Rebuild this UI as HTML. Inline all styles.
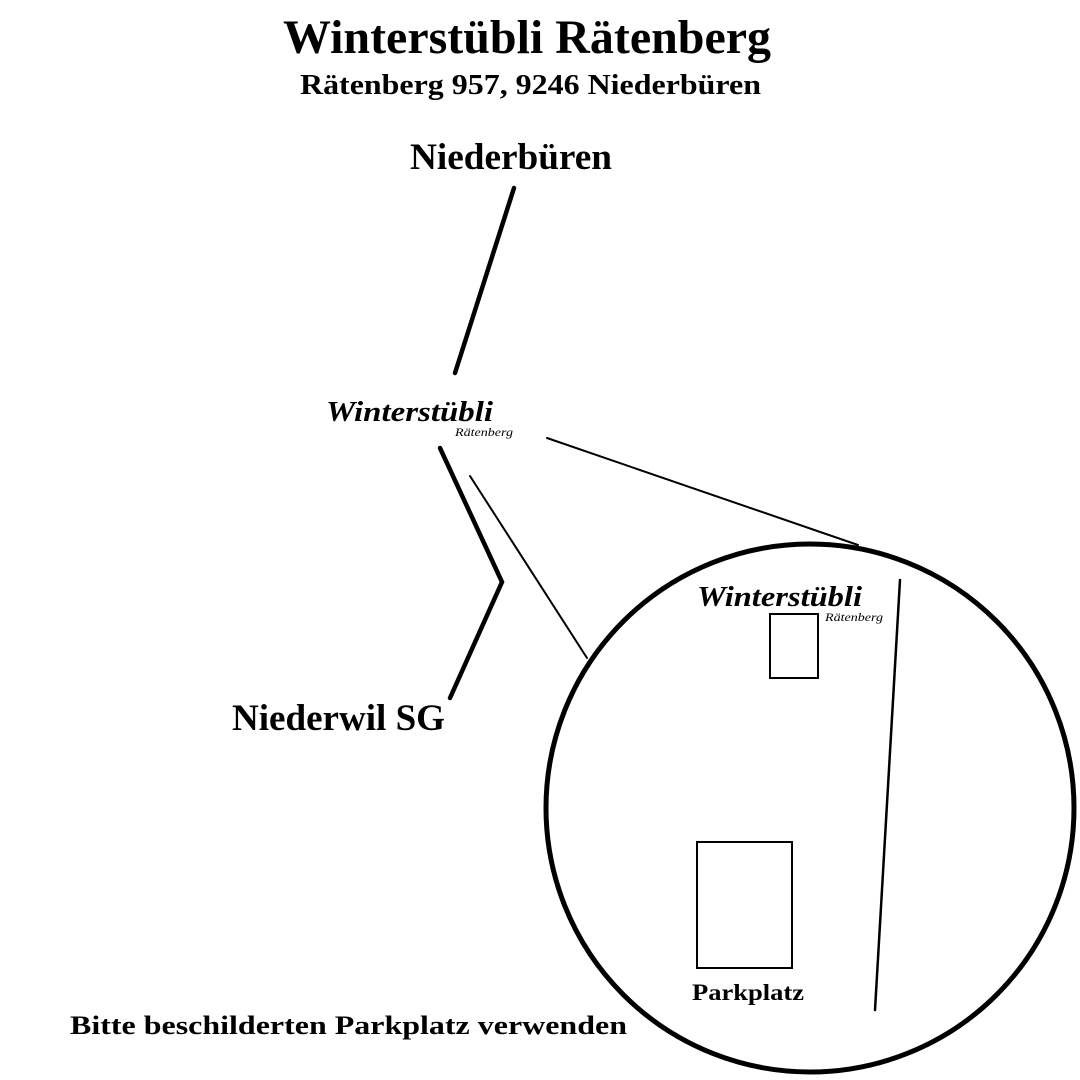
<!DOCTYPE html>
<html><head><meta charset="utf-8"><style>
html,body{margin:0;padding:0;background:#fff;}
svg{display:block}
</style></head><body>
<svg width="1080" height="1080" viewBox="0 0 1080 1080" xmlns="http://www.w3.org/2000/svg">
<rect width="1080" height="1080" fill="#fff"/>
<g font-family="Liberation Serif, serif" font-weight="bold" fill="#000">
<text x="283" y="53" font-size="48" textLength="488" lengthAdjust="spacingAndGlyphs">Winterstübli Rätenberg</text>
<text x="300" y="94" font-size="29" textLength="461" lengthAdjust="spacingAndGlyphs">Rätenberg 957, 9246 Niederbüren</text>
<text x="410" y="169" font-size="37" textLength="202" lengthAdjust="spacingAndGlyphs">Niederbüren</text>
<text x="232" y="730" font-size="37" textLength="213" lengthAdjust="spacingAndGlyphs">Niederwil SG</text>
<text x="70" y="1034" font-size="26" textLength="557" lengthAdjust="spacingAndGlyphs">Bitte beschilderten Parkplatz verwenden</text>
<text x="692" y="1000" font-size="23" textLength="112" lengthAdjust="spacingAndGlyphs">Parkplatz</text>
</g>
<g font-family="Liberation Serif, serif" font-style="italic" fill="#000">
<text x="326" y="421" font-size="28" font-weight="bold" textLength="167" lengthAdjust="spacingAndGlyphs">Winterstübli</text>
<text x="455" y="436" font-size="12" textLength="58" lengthAdjust="spacingAndGlyphs">Rätenberg</text>
<text x="697" y="606" font-size="28" font-weight="bold" textLength="165" lengthAdjust="spacingAndGlyphs">Winterstübli</text>
<text x="825" y="621" font-size="12" textLength="58" lengthAdjust="spacingAndGlyphs">Rätenberg</text>
</g>
<g stroke="#000" fill="none" stroke-linecap="round">
<line x1="514" y1="188" x2="455" y2="373" stroke-width="4.5"/>
<polyline points="440,448 502,582 450,698" stroke-width="4.5" stroke-linejoin="miter"/>
<line x1="547" y1="438" x2="858" y2="545" stroke-width="2"/>
<line x1="470" y1="476" x2="587" y2="658" stroke-width="2"/>
<circle cx="810" cy="808" r="264" stroke-width="5"/>
<line x1="900" y1="580" x2="875" y2="1010" stroke-width="2.5"/>
<rect x="770" y="614" width="48" height="64" stroke-width="2"/>
<rect x="697" y="842" width="95" height="126" stroke-width="2"/>
</g>
</svg>
</body></html>
